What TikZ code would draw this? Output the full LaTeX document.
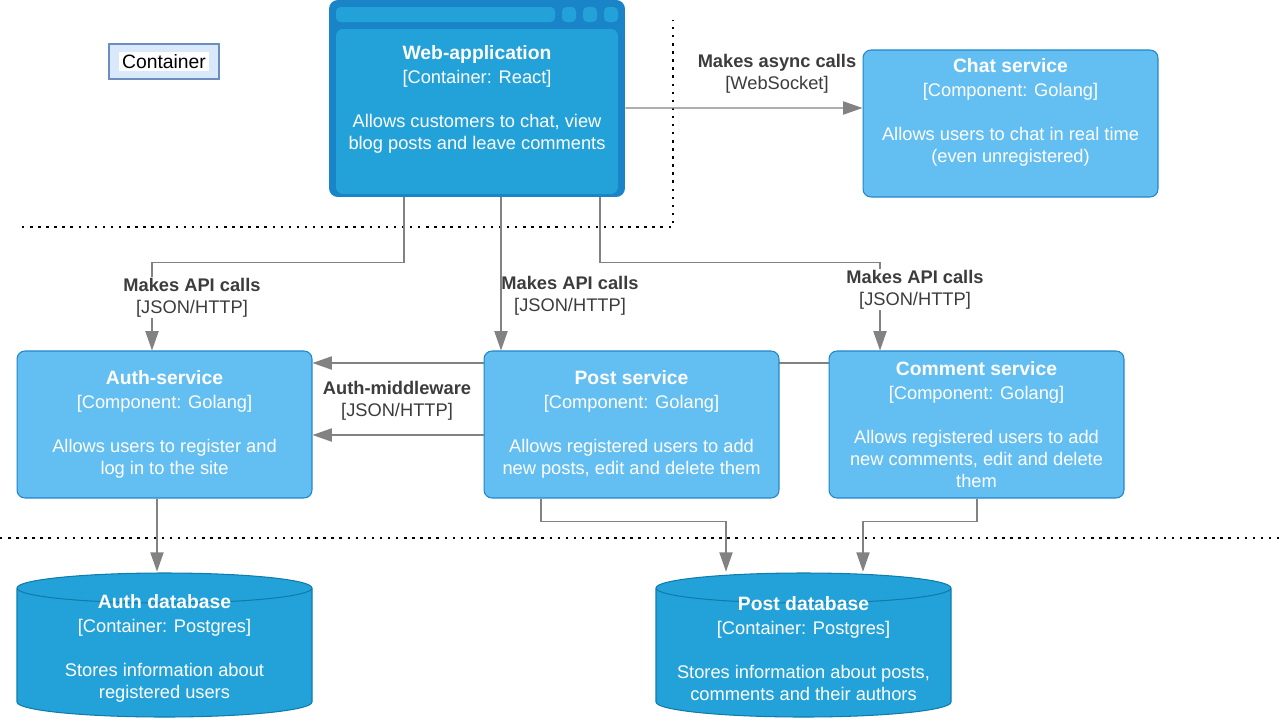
\documentclass[tikz,border=0pt]{standalone}
\usepackage{fontspec}
\setmainfont{Liberation Sans}
\usetikzlibrary{arrows.meta, calc, backgrounds}

\definecolor{compfill}{HTML}{63BEF2}
\definecolor{compline}{HTML}{2086C9}
\definecolor{contfill}{HTML}{23A2D9}
\definecolor{contline}{HTML}{0E7DAD}
\definecolor{webframe}{HTML}{1A84C8}
\definecolor{linkgray}{HTML}{828282}
\definecolor{labelgray}{HTML}{3C3C3C}
\definecolor{legendfill}{HTML}{DAE8FC}
\definecolor{legendline}{HTML}{6C8EBF}

\newcommand{\boxtitle}[1]{{\fontsize{11}{12.5}\selectfont\bfseries #1}}

\tikzset{
	txt/.style={font=\fontsize{10.4}{12.5}\selectfont, align=center, inner sep=0pt},
	component/.style={txt, draw=compline, line width=0.6pt, fill=compfill, text=white,
		rounded corners=4.5pt, minimum width=5.9cm, minimum height=2.94cm},
	dbtext/.style={txt, text=white, minimum width=5.9cm, minimum height=3.06cm},
	edgelabel/.style={txt, text=labelgray, fill=white, inner sep=0.5pt},
	link/.style={draw=linkgray, line width=0.8pt, -{Triangle[length=11pt, width=7.5pt]}},
	zone/.style={line width=1.4pt, dash pattern=on 1.4pt off 3.2pt},
}

\begin{document}
\begin{tikzpicture}[x=0.02cm, y=-0.02cm]
	\useasboundingbox (0,0) rectangle (1280,720);

	% legend
	\node [draw=legendline, fill=legendfill, line width=0.6pt, minimum width=2.2cm, minimum height=0.7cm,
		inner sep=0pt, font=\fontsize{11}{13}\selectfont] (legend) at (164,61.5)
		{\setlength{\fboxsep}{1.5pt}\colorbox{white}{Container}};

	% web browser container
	\node [fill=webframe, rounded corners=5pt, minimum width=5.92cm, minimum height=3.94cm] (webapp) at (477,98.5) {};
	\fill [contfill, rounded corners=2.5pt] (336,7) rectangle (555,22);
	\foreach \sx in {562,583,604}
		\fill [contfill, rounded corners=2.5pt] (\sx,7) rectangle ++(14,15);
	\node [txt, text=white, fill=contfill, rounded corners=4pt, minimum width=5.64cm, minimum height=3.3cm] (webinner) at (477,111.5)
		{\boxtitle{Web-application}\\[1.1pt][Container: React]\\[12.5pt]Allows customers to chat, view\\blog posts and leave comments\\[3pt]\mbox{}};

	% components
	\node [component] (chat) at (1010.5,123.5)
		{\boxtitle{Chat service}\\[1.1pt][Component: Golang]\\[12.5pt]Allows users to chat in real time\\(even unregistered)\\[2pt]\mbox{}};
	\node [component] (auth) at (164.5,424.5)
		{\boxtitle{Auth-service}\\[1.1pt][Component: Golang]\\[12.5pt]Allows users to register and\\log in to the site};
	\node [component] (post) at (631.5,424.5)
		{\boxtitle{Post service}\\[1.1pt][Component: Golang]\\[12.5pt]Allows registered users to add\\new posts, edit and delete them};
	\node [component] (comment) at (976.5,424.5)
		{\boxtitle{Comment service}\\[1.1pt][Component: Golang]\\[12.5pt]Allows registered users to add\\new comments, edit and delete\\them};

	% databases
	\foreach \cx in {164.5,803.5} {
		\fill [contfill] (\cx-147.5,588) -- (\cx-147.5,702)
			arc [start angle=180, end angle=0, x radius=147.5, y radius=15]
			-- (\cx+147.5,588) arc [start angle=0, end angle=-180, x radius=147.5, y radius=15] -- cycle;
		\draw [contline, line width=0.6pt] (\cx-147.5,588) -- (\cx-147.5,702)
			arc [start angle=180, end angle=0, x radius=147.5, y radius=15]
			-- (\cx+147.5,588) arc [start angle=0, end angle=-180, x radius=147.5, y radius=15]
			arc [start angle=180, end angle=0, x radius=147.5, y radius=15];
	}
	\node [dbtext] (authdb) at (164.5,648.5)
		{\boxtitle{Auth database}\\[1.1pt][Container: Postgres]\\[12.5pt]Stores information about\\registered users};
	\node [dbtext] (postdb) at (803.5,648.5)
		{\boxtitle{Post database}\\[1.1pt][Container: Postgres]\\[12.5pt]Stores information about posts,\\comments and their authors};

	% boundaries
	\draw [zone] (22,227) -- (673,227) -- (673,20);
	\draw [zone] (0,538) -- (1280,538);

	% connectors
	\begin{scope}[on background layer]
		\draw [link] ($(comment.west)+(0,-61.5)$) -- ($(auth.east)+(0,-61.5)$);
	\end{scope}
	\draw [link] ($(webapp.south)+(-73,0)$) -- ++(0,65) -| ($(auth.north)+(-12.5,0)$);
	\draw [link] ($(webapp.south)+(24,0)$) -- ($(post.north)+(-130.5,0)$);
	\draw [link] ($(webapp.south)+(123,0)$) -- ++(0,65) -| ($(comment.north)+(-96.5,0)$);
	\draw [link] ($(webapp.east)+(0,9.5)$) -- ($(chat.west)+(0,-15.5)$);
	\draw [link] ($(post.west)+(0,10.5)$) -- ($(auth.east)+(0,10.5)$);
	\draw [link] ($(auth.south)+(-7.5,0)$) -- ($(authdb.north)+(-7.5,0)$);
	\draw [link] ($(post.south)+(-90.5,0)$) -- ++(0,23) -| ($(postdb.north)+(-77.5,0)$);
	\draw [link] ($(comment.south)+(0.5,0)$) -- ++(0,23) -| ($(postdb.north)+(59.5,0)$);

	% connector labels
	\node [edgelabel] (apiauth) at (192,297.5) {\textbf{Makes API calls}\\[0pt][JSON/HTTP]};
	\node [edgelabel, fill=none] (apipost) at (570,296) {\textbf{Makes API calls}\\[0pt][JSON/HTTP]};
	\node [edgelabel] (apicomment) at (915,289.5) {\textbf{Makes API calls}\\[0pt][JSON/HTTP]};
	\node [edgelabel] (async) at (777,73.5) {\textbf{Makes async calls}\\[0pt][WebSocket]};
	\node [edgelabel] (middleware) at (397,400.5) {\textbf{Auth-middleware}\\[0pt][JSON/HTTP]};

\end{tikzpicture}
\end{document}
